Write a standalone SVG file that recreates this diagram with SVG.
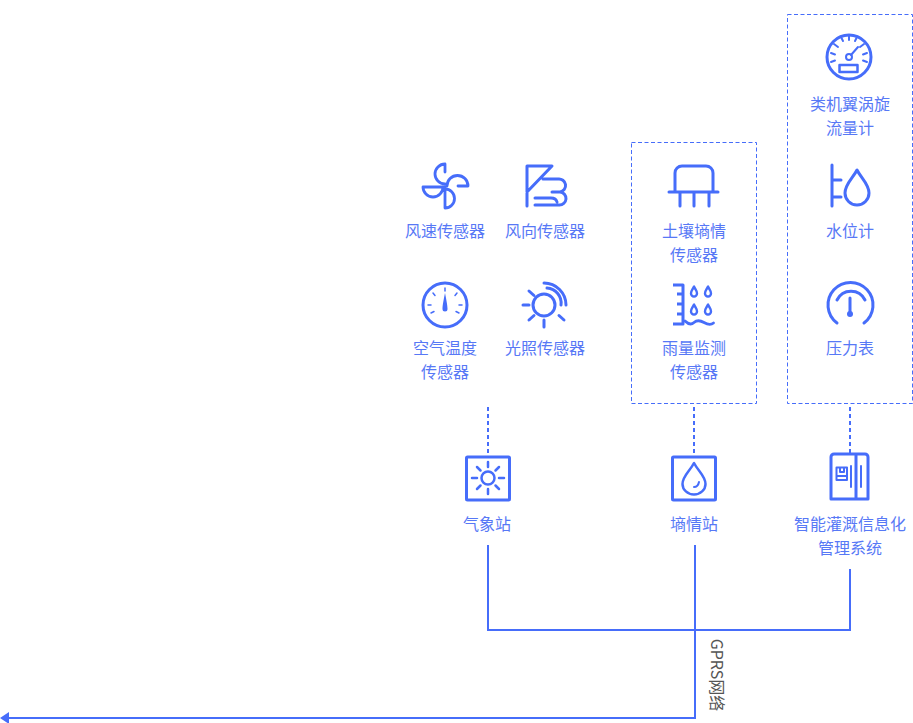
<svg xmlns="http://www.w3.org/2000/svg" width="913" height="723" viewBox="0 0 913 723">
<style>
text{font-family:"Noto Sans CJK SC","Noto Sans",sans-serif;font-size:16px;fill:#5778f6;text-anchor:middle;font-weight:400}
.i{fill:none;stroke:#466dfa;stroke-width:3;stroke-linecap:round;stroke-linejoin:round}
.s{fill:none;stroke:#466dfa;stroke-width:2}
.d{fill:none;stroke:#466dfa;stroke-width:2;stroke-dasharray:4 3}
.b{fill:none;stroke:#466dfa;stroke-width:1;stroke-dasharray:4 2.5}
.f{fill:#466dfa;stroke:none}
</style>
<defs>
<marker id="arrow" markerUnits="userSpaceOnUse" markerWidth="9" markerHeight="12" refX="0" refY="6" orient="auto"><path d="M0 0L9 6L0 12Z" fill="#466dfa"/></marker>
<path id="drop" d="M0 -5.500C-1 -3 -3 -1.300 -3 1.500A3 3 0 0 0 3 1.500C3 -1.300 1 -3 0 -5.500Z"/>
</defs>
<g id="connectors">
<path class="d" d="M488 407V453M694 407V453M850 407V453"/>
<path class="s" d="M488 545V630H850V569"/>
<path class="s" d="M695 545V718H9" marker-end="url(#arrow)"/>
</g>
<g id="group-soil"><rect class="b" x="631.500" y="142.500" width="125" height="261"/></g>
<g id="group-flow"><rect class="b" x="787.500" y="14.500" width="125" height="389"/></g>
<g id="wind-speed">
<path class="i" style="stroke-width:2.800" d="M445 164A10 10 0 0 0 445 184M447 186A10.500 10.500 0 0 1 468 186H458M445 189A9.500 9.500 0 0 1 445 208V187M423 187H443A10 10 0 0 1 423 187M445 164V172"/>
<text x="445" y="237">风速传感器</text>
</g>
<g id="wind-dir">
<path class="i" d="M527 206V166H552L527 192M543 179H558A6.500 6.500 0 0 1 560 192H552M535 198H551Q556 198 557 202M535 205H559A6.500 6.500 0 0 0 560 192"/>
<text x="545" y="237">风向传感器</text>
</g>
<g id="air-temp">
<circle class="i" cx="445" cy="305" r="22"/>
<path class="i" style="stroke-width:1.500" d="M445 288V291M433 293L435 295.500M457 293L455 295.500M428 305H431M462 305H459M431 313L434 311.500M459 313L456 311.500"/>
<path class="f" d="M445 293C444 298 442.500 305 442.500 309A2.500 2.500 0 0 0 447.500 309C447.500 305 446 298 445 293Z"/>
<text x="445" y="354">空气温度</text>
<text x="445" y="378">传感器</text>
</g>
<g id="light">
<circle class="i" cx="544" cy="305" r="11"/>
<path class="i" d="M523 305H529M544 320V327M529 291L534 295.500M529 320L534 315.500M559 315.500L564 320M544 283A22 22 0 0 1 566 305M547 288A15 15 0 0 1 561 305"/>
<text x="545" y="354">光照传感器</text>
</g>
<g id="soil-sensor">
<path class="i" d="M675 192V173A7 7 0 0 1 682 166H706A7 7 0 0 1 713 173V192M669 192H718M680 192V206M694 192V206M709 192V206"/>
<text x="694" y="237">土壤墒情</text>
<text x="694" y="261">传感器</text>
</g>
<g id="rain">
<path class="i" style="stroke-linecap:butt" d="M673 285H683V324H673M677 294H683M677 304H683M677 314H683"/>
<g class="i" style="stroke-width:2.400">
<use href="#drop" x="694" y="292"/><use href="#drop" x="708" y="292"/><use href="#drop" x="694" y="310"/><use href="#drop" x="708" y="310"/>
</g>
<path class="i" style="stroke-width:2.800" d="M685 321Q690 326 694 322.500T704 322.500T713.500 323"/>
<text x="694" y="354">雨量监测</text>
<text x="694" y="378">传感器</text>
</g>
<g id="flow-meter">
<circle class="i" cx="849" cy="57" r="22"/>
<path class="i" style="stroke-width:2" d="M831 62L835 60.500M831 53L835 54.500M834 44L838 47M841 37L843 41M849 35V40M857 37L855 41M864 44L860 47M867 53L863 54.500M867 62L863 60.500M851 55L858 47"/>
<circle class="i" style="stroke-width:2" cx="849" cy="57" r="3"/>
<rect class="i" style="stroke-width:2.500" x="839.500" y="65" width="18" height="7"/>
<text x="850" y="110">类机翼涡旋</text>
<text x="850" y="134">流量计</text>
</g>
<g id="water-level">
<path class="i" d="M832 165V206M832 180H841M832 197H841"/>
<path class="i" d="M857 170C853 178 845 184 845 193A12 12 0 0 0 869 193C869 184 861 178 857 170Z"/>
<text x="850" y="237">水位计</text>
</g>
<g id="pressure">
<path class="i" d="M837 323A22.500 22.500 0 1 1 864 323M837 300A15.500 15.500 0 0 1 865 300M850 298V313"/>
<circle class="f" cx="850" cy="314" r="3"/>
<text x="850" y="354">压力表</text>
</g>
<g id="weather-station">
<rect class="i" x="466.500" y="457" width="43" height="43" rx="1"/>
<circle class="i" style="stroke-width:2.500" cx="488" cy="478" r="6.500"/>
<path class="i" style="stroke-width:2.500" d="M472 478H477M499 478H504M488 462V467M488 489V494M477 467L480.500 470.500M499 467L495.500 470.500M477 489L480.500 485.500M499 489L495.500 485.500"/>
<text x="487" y="530">气象站</text>
</g>
<g id="soil-station">
<rect class="i" x="672.500" y="457" width="43" height="43" rx="1"/>
<path class="i" style="stroke-width:2.500" d="M694 463C690 471 682.500 476 682.500 484A11.500 10.500 0 0 0 705.500 484C705.500 476 698 471 694 463Z"/>
<path class="i" style="stroke-width:2" d="M694 487Q698 487 699 482"/>
<text x="694" y="530">墒情站</text>
</g>
<g id="irrigation-system">
<path class="i" d="M831 499V457A3 3 0 0 1 834 454H865A3 3 0 0 1 868 457V499ZM856 454V499"/>
<path class="i" style="stroke-width:2" d="M851 466V487M861 466V487M836.500 467.500H847V480H836.500ZM836.500 476H847M840 467.500V472H844V467.500"/>
<text x="850" y="530">智能灌溉信息化</text>
<text x="850" y="554">管理系统</text>
</g>
<g id="network-label">
<text x="0" y="0" transform="translate(711 675) rotate(90)" style="fill:#555555">GPRS网络</text>
</g>
</svg>
